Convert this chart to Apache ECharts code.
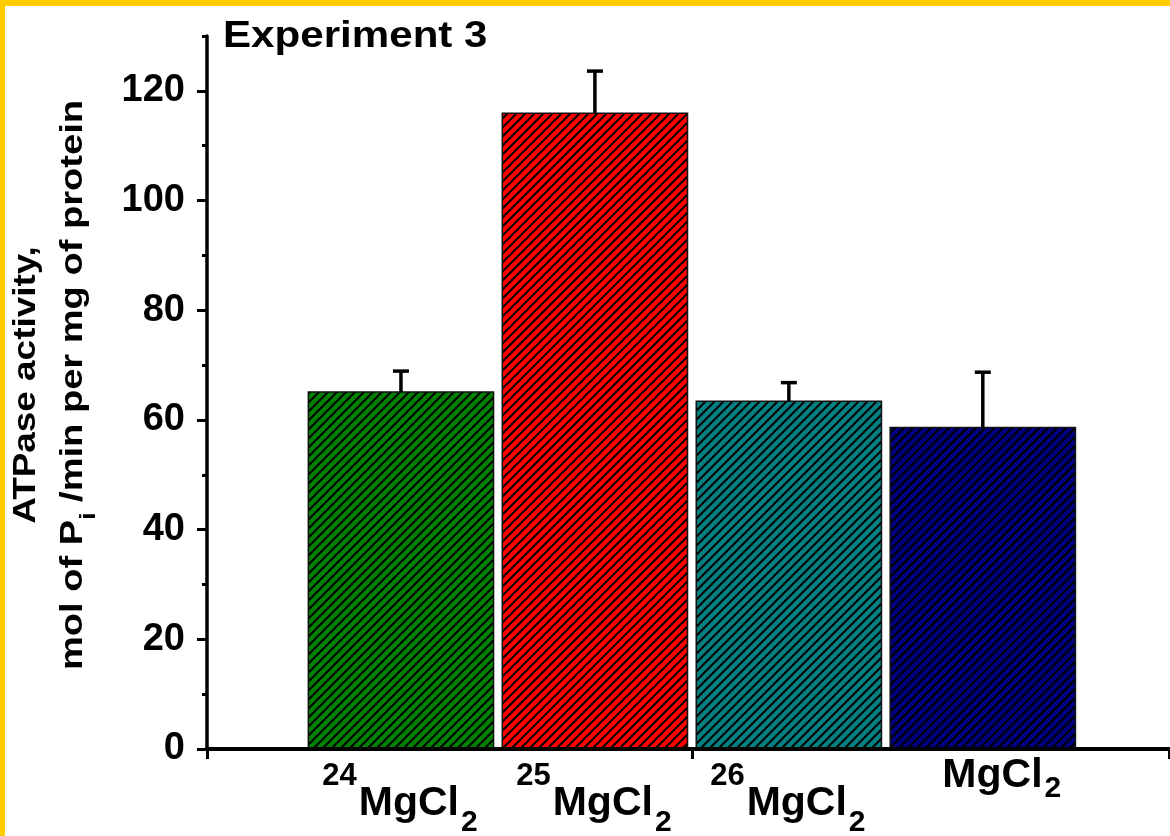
<!DOCTYPE html>
<html><head><meta charset="utf-8">
<script src="https://cdn.jsdelivr.net/npm/echarts@6/dist/echarts.min.js"></script>
<style>html,body{margin:0;padding:0;background:#fff;}#c{width:1170px;height:836px;}</style>
</head><body><div id="c"></div>
<script>
// ---- data ----
const positions = [1, 2, 3, 4];
const isotopes = ['24', '25', '26', ''];
const compound = 'MgCl';
const compoundSub = '2';
const activity = [65.1, 115.9, 63.4, 58.6];
const errors = [3.8, 7.7, 3.4, 10.1];
const barColors = ['#008000', '#ff0000', '#008080', '#000080'];
const yMajorTicks = [0, 20, 40, 60, 80, 100, 120];
const yMinorTicks = [10, 30, 50, 70, 90, 110, 130];
const xTicks = [0, 2.5, 4.96];
const chartTitle = 'Experiment 3';
const yTitleLine1 = 'ATPase activity,';
const yTitleLine2a = 'mol of P';
const yTitleLine2sub = 'i';
const yTitleLine2b = ' /min per mg of protein';

const FONT = '"Liberation Sans", Arial, sans-serif';
const BAR_W = 0.955;
const SUP_SIZE = 31, MAIN_SIZE = 41, SUB_SIZE = 30;

const measureCtx = document.createElement('canvas').getContext('2d');
function textWidth(t, size) {
  measureCtx.font = 'bold ' + size + 'px ' + FONT;
  return measureCtx.measureText(t).width;
}

function hatch(color) {
  const s = 9;
  const c = document.createElement('canvas');
  c.width = s; c.height = s;
  const g = c.getContext('2d');
  g.fillStyle = color; g.fillRect(0, 0, s, s);
  g.strokeStyle = '#000'; g.lineWidth = 2;
  g.beginPath();
  g.moveTo(0, s); g.lineTo(s, 0);
  g.moveTo(-2, 2); g.lineTo(2, -2);
  g.moveTo(s - 2, s + 2); g.lineTo(s + 2, s - 2);
  g.stroke();
  return { type: 'pattern', image: c, repeat: 'repeat' };
}
const patterns = barColors.map(hatch);

const chart = echarts.init(document.getElementById('c'), null, { renderer: 'canvas' });

const barData = positions.map((p, i) => [p, activity[i], errors[i], i]);
const labelData = positions.map((p, i) => [p, 0, i]);

function txt(s, x, y, size) {
  return { type: 'text', x: x, y: y, style: { text: s, fontSize: size, fontWeight: 'bold', fontFamily: FONT, fill: '#000', align: 'left', verticalAlign: 'middle' } };
}

const option = {
  backgroundColor: '#fff',
  animation: false,
  grid: { left: 207, top: 36, width: 962, height: 713, containLabel: false },
  xAxis: {
    type: 'value', min: 0, max: xTicks[xTicks.length - 1], interval: 2.5, z: 5,
    axisLine: { show: true, onZero: false, lineStyle: { color: '#000', width: 4 } },
    axisTick: { show: true, length: 10, customValues: xTicks, lineStyle: { color: '#000', width: 3 } },
    axisLabel: { show: false },
    splitLine: { show: false }
  },
  yAxis: [{
    type: 'value', min: 0, max: 130, interval: 20, position: 'left', z: 5,
    axisLine: { show: true, onZero: false, lineStyle: { color: '#000', width: 3.5 } },
    axisTick: { show: true, length: 10, customValues: yMajorTicks, lineStyle: { color: '#000', width: 3 } },
    axisLabel: { show: true, customValues: yMajorTicks, margin: 22, color: '#000', fontSize: 38, fontWeight: 'bold', fontFamily: FONT },
    splitLine: { show: false }
  }, {
    type: 'value', min: 0, max: 130, interval: 10, position: 'left', z: 5,
    axisLine: { show: false },
    axisTick: { show: true, length: 5, customValues: yMinorTicks, lineStyle: { color: '#000', width: 3 } },
    axisLabel: { show: false },
    splitLine: { show: false }
  }],
  series: [{
    type: 'custom', name: 'bars', z: 2, clip: false,
    data: barData,
    renderItem: function (params, api) {
      const x = api.value(0), y = api.value(1), idx = api.value(3);
      const p0 = api.coord([x - BAR_W / 2, 0]);
      const p1 = api.coord([x + BAR_W / 2, y]);
      return {
        type: 'rect',
        shape: { x: p0[0], y: p1[1], width: p1[0] - p0[0], height: p0[1] - p1[1] },
        style: { fill: patterns[idx], stroke: '#111', lineWidth: 1.5 }
      };
    }
  }, {
    type: 'custom', name: 'errors', z: 3, clip: false,
    data: barData,
    renderItem: function (params, api) {
      const x = api.value(0), y = api.value(1), e = api.value(2);
      const pb = api.coord([x, y]);
      const pt = api.coord([x, y + e]);
      return {
        type: 'group',
        children: [
          { type: 'line', shape: { x1: pb[0], y1: pb[1], x2: pt[0], y2: pt[1] }, style: { stroke: '#000', lineWidth: 3.5 } },
          { type: 'line', shape: { x1: pt[0] - 8, y1: pt[1], x2: pt[0] + 8, y2: pt[1] }, style: { stroke: '#000', lineWidth: 3.5 } }
        ]
      };
    }
  }, {
    type: 'custom', name: 'labels', z: 4, clip: false, silent: true,
    data: labelData,
    renderItem: function (params, api) {
      const x = api.value(0), idx = api.value(2);
      const p = api.coord([x, 0]);
      const iso = isotopes[idx];
      const wm = textWidth(compound, MAIN_SIZE);
      const wsub = textWidth(compoundSub, SUB_SIZE);
      if (iso) {
        const wsup = textWidth(iso, SUP_SIZE);
        const x0 = p[0] - 3 - (wsup + wm + wsub) / 2;
        return {
          type: 'group',
          children: [
            txt(iso, x0, p[1] + 27, SUP_SIZE),
            txt(compound, x0 + wsup + 2, p[1] + 55, MAIN_SIZE),
            txt(compoundSub, x0 + wsup + 2 + wm + 2, p[1] + 74, SUB_SIZE)
          ]
        };
      }
      const x0 = p[0] + 18 - (wm + wsub) / 2;
      return {
        type: 'group',
        children: [
          txt(compound, x0, p[1] + 27, MAIN_SIZE),
          txt(compoundSub, x0 + wm + 2, p[1] + 40, SUB_SIZE)
        ]
      };
    }
  }],
  graphic: [
    { type: 'rect', z: 0, shape: { x: 0, y: 0, width: 1170, height: 6 }, style: { fill: '#FFCC00' } },
    { type: 'rect', z: 0, shape: { x: 0, y: 0, width: 5, height: 836 }, style: { fill: '#FFCC00' } },
    {
      type: 'text', x: 223, y: 37, scaleX: 1.17,
      style: { text: chartTitle, fontSize: 36, fontWeight: 'bold', fontFamily: FONT, fill: '#000', align: 'left', verticalAlign: 'middle' }
    },
    {
      type: 'text', x: 52.5, y: 385, rotation: Math.PI / 2, scaleX: 1.19,
      style: {
        text: '{a|' + yTitleLine1 + '}\n{b|' + yTitleLine2a + '}{s|' + yTitleLine2sub + '}{b|' + yTitleLine2b + '}',
        align: 'center', verticalAlign: 'middle', fill: '#000',
        rich: {
          a: { fontSize: 31, fontWeight: 'bold', fontFamily: FONT, lineHeight: 42, fill: '#000' },
          b: { fontSize: 32, fontWeight: 'bold', fontFamily: FONT, lineHeight: 53, fill: '#000' },
          s: { fontSize: 22, fontWeight: 'bold', fontFamily: FONT, lineHeight: 4, verticalAlign: 'bottom', fill: '#000' }
        }
      }
    }
  ]
};
chart.setOption(option);
</script>
</body></html>
